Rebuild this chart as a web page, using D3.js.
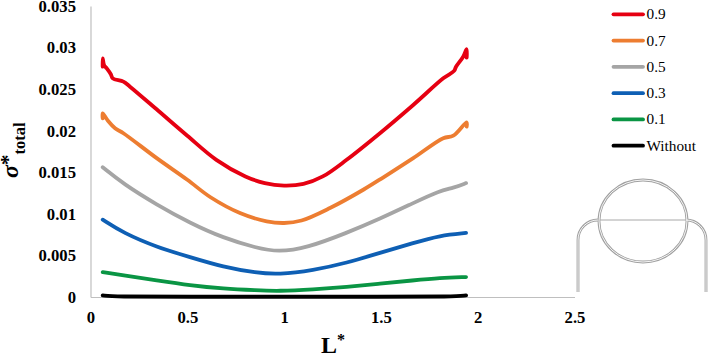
<!DOCTYPE html>
<html>
<head>
<meta charset="utf-8">
<script src="https://cdn.jsdelivr.net/npm/d3@7"></script>
<style>
  html, body { margin: 0; padding: 0; background: #fff; }
  text { font-family: "Liberation Serif", serif; fill: #000; }
</style>
</head>
<body>
<div id="chart"></div>
<script>
const xTicks = [0, 0.5, 1, 1.5, 2, 2.5];
const yTicks = [0, 0.005, 0.01, 0.015, 0.02, 0.025, 0.03, 0.035];

const legendLabels = ["0.9", "0.7", "0.5", "0.3", "0.1", "Without"];
const seriesColors = ["#e60012", "#ed7d31", "#a5a5a5", "#0e5fb4", "#0a9544", "#000000"];

// [L*, sigma*]
const red = [[0.063, 0.0277], [0.063, 0.0287], [0.07, 0.0279], [0.084, 0.0275], [0.105, 0.0268], [0.115, 0.0263], [0.17, 0.0259], [0.204, 0.0253], [0.35, 0.0224], [0.5, 0.0194], [0.65, 0.0165], [0.8, 0.0145], [0.9, 0.0137], [1.0, 0.0134], [1.1, 0.0136], [1.2, 0.0145], [1.323, 0.0165], [1.495, 0.0197], [1.667, 0.0231], [1.822, 0.0263], [1.878, 0.0272], [1.888, 0.0277], [1.925, 0.0289], [1.943, 0.0298], [1.943, 0.0288]];
const orange = [[0.063, 0.0215], [0.063, 0.0221], [0.09, 0.0212], [0.127, 0.0203], [0.17, 0.0197], [0.342, 0.0167], [0.5, 0.0141], [0.62, 0.012], [0.772, 0.0101], [0.91, 0.0091], [1.0, 0.0089], [1.09, 0.0092], [1.237, 0.0107], [1.409, 0.0129], [1.513, 0.0144], [1.667, 0.0167], [1.822, 0.0191], [1.874, 0.0194], [1.943, 0.021], [1.943, 0.0205]];
const gray = [[0.063, 0.0156], [0.17, 0.0136], [0.342, 0.0111], [0.514, 0.0089], [0.686, 0.0071], [0.858, 0.0059], [0.97, 0.0054], [1.117, 0.0059], [1.323, 0.0077], [1.495, 0.0094], [1.667, 0.0113], [1.805, 0.0128], [1.874, 0.0131], [1.94, 0.0137], [1.94, 0.0137]];
const blue = [[0.063, 0.0093], [0.17, 0.0077], [0.342, 0.006], [0.514, 0.0048], [0.686, 0.0036], [0.858, 0.0029], [0.97, 0.0027], [1.15, 0.0032], [1.323, 0.0041], [1.495, 0.0053], [1.667, 0.0065], [1.805, 0.0074], [1.94, 0.0077], [1.94, 0.0077]];
const green = [[0.063, 0.003], [0.17, 0.0026], [0.342, 0.002], [0.514, 0.0014], [0.686, 0.001], [0.858, 0.0008], [0.97, 0.0007], [1.15, 0.0009], [1.323, 0.0012], [1.495, 0.0016], [1.667, 0.002], [1.805, 0.0023], [1.94, 0.0024]];
const without = [[0.063, 0.0002], [0.12, 0.00003], [0.5, 0.00003], [1, 0.00003], [1.5, 0.00003], [1.88, 0.00003], [1.94, 0.0002]];
const allSeries = [red, orange, gray, blue, green, without];

const margin = { top: 6, left: 90.5 };
const width = 484;
const height = 291;

const root = d3.select("#chart")
  .append("svg")
  .attr("width", 721)
  .attr("height", 354)
  .style("display", "block");

const svg = root.append("g")
  .attr("transform", `translate(${margin.left},${margin.top})`);

const x = d3.scaleLinear().domain([0, 2.5]).range([0, width]);
const y = d3.scaleLinear().domain([0, 0.035]).range([height, 0]);

const xAxis = svg.append("g")
  .attr("transform", `translate(0,${height})`)
  .call(d3.axisBottom(x).tickValues(xTicks).tickFormat(d => String(d)).tickSize(0).tickPadding(14.5));

const yAxis = svg.append("g")
  .call(d3.axisLeft(y).tickValues(yTicks).tickFormat(d => String(d)).tickSize(0).tickPadding(14.5));

[xAxis, yAxis].forEach(axis => {
  axis.attr("font-family", null).attr("font-size", null);
  axis.select(".domain").attr("stroke", "#bfbfbf").attr("stroke-width", 1.2);
  axis.selectAll("text")
    .style("font-family", '"Liberation Serif", serif')
    .style("font-size", "16.7px")
    .style("font-weight", "bold");
});

// red and orange keep their jagged ends, the others are plain smooth curves
const jaggedLine = d3.line()
  .x(d => x(d[0]))
  .y(d => y(d[1]))
  .curve(d3.curveCatmullRom.alpha(0.5));
const smoothLine = d3.line()
  .x(d => x(d[0]))
  .y(d => y(d[1]))
  .curve(d3.curveBasis);

svg.selectAll(".series")
  .data(allSeries)
  .enter()
  .append("path")
  .attr("class", "series")
  .attr("d", (d, i) => (i < 2 ? jaggedLine(d) : smoothLine(d)))
  .attr("fill", "none")
  .attr("stroke", (d, i) => seriesColors[i])
  .attr("stroke-width", 3.8)
  .attr("stroke-linejoin", "round")
  .attr("stroke-linecap", "round");

// legend
const legendY = d3.scalePoint().domain(legendLabels).range([14.3, 145.7]);
const legend = root.selectAll(".legend")
  .data(legendLabels)
  .enter()
  .append("g")
  .attr("class", "legend")
  .attr("transform", d => `translate(0,${legendY(d)})`);

legend.append("line")
  .attr("x1", 613.5)
  .attr("x2", 643)
  .attr("stroke", (d, i) => seriesColors[i])
  .attr("stroke-width", 3.8)
  .attr("stroke-linecap", "round");

legend.append("text")
  .attr("x", 646.5)
  .attr("dy", "0.33em")
  .style("font-size", "15.3px")
  .text(d => d);

// axis titles
root.append("text")
  .attr("x", 321)
  .attr("y", 352.5)
  .style("font-size", "24px")
  .style("font-weight", "bold")
  .html('L<tspan dy="-8" font-size="16">*</tspan>');

root.append("text")
  .attr("transform", "translate(18,178) rotate(-90)")
  .style("font-weight", "bold")
  .html('<tspan font-size="24" font-style="italic">σ</tspan><tspan font-size="21" dy="-3.5">*</tspan><tspan font-size="16.5" dy="10.5">total</tspan>');

// pipe sketch
const sketch = d3.path();
sketch.moveTo(578, 292);
sketch.lineTo(578, 240);
sketch.arcTo(578, 220, 598, 220, 20);
sketch.moveTo(706, 292);
sketch.lineTo(706, 240);
sketch.arcTo(706, 220, 686, 220, 20);

[["#a0a0a0", 2.8], ["#fff", 0.9]].forEach(([stroke, strokeWidth]) => {
  root.append("path")
    .attr("d", sketch.toString())
    .attr("fill", "none")
    .attr("stroke", stroke)
    .attr("stroke-width", strokeWidth);
  root.append("ellipse")
    .attr("cx", 643)
    .attr("cy", 221)
    .attr("rx", 44)
    .attr("ry", 41)
    .attr("fill", "none")
    .attr("stroke", stroke)
    .attr("stroke-width", strokeWidth);
});

root.append("line")
  .attr("x1", 600)
  .attr("x2", 686)
  .attr("y1", 220)
  .attr("y2", 220)
  .attr("stroke", "#a8a8a8")
  .attr("stroke-width", 1);
</script>
</body>
</html>
